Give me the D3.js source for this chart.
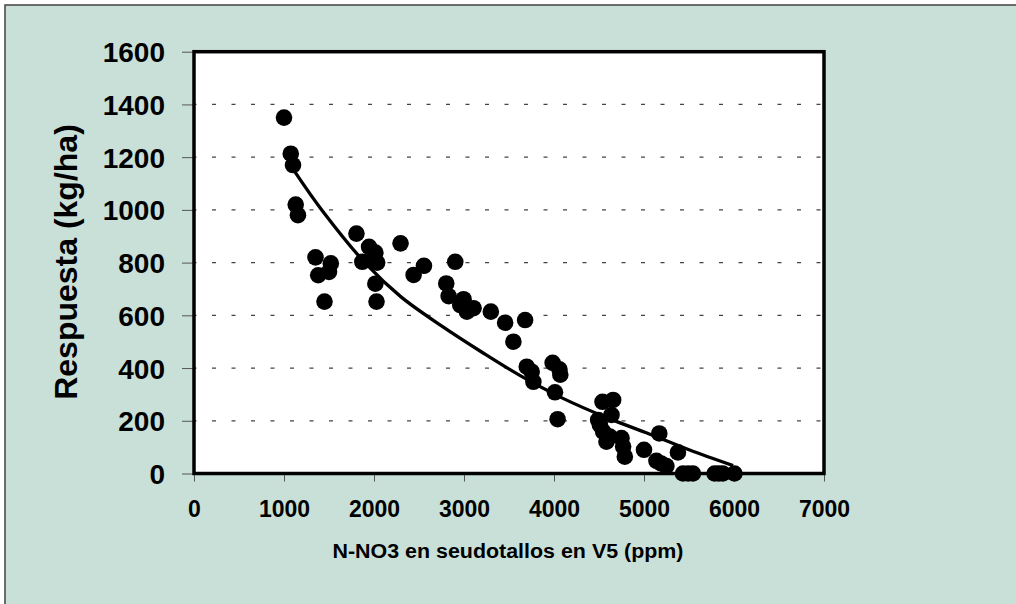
<!DOCTYPE html>
<html>
<head>
<meta charset="utf-8">
<script src="https://cdn.jsdelivr.net/npm/d3@7"></script>
<style>
  body { margin: 0; background: #fff; }
  svg text { font-family: "Liberation Sans", Arial, sans-serif; font-weight: bold; fill: #000; }
</style>
</head>
<body>
<div id="chart"></div>
<script>
// N-NO3 in pseudostems (ppm) vs yield response (kg/ha)
var nitrate = [1000, 1075, 1100, 1130, 1155, 1350, 1380, 1500, 1520, 1450,
    1805, 1870, 1945, 1960, 2015, 2035, 2015, 2028, 2295, 2440, 2555,
    2903, 2803, 2829, 2958, 2995, 3032, 3106, 3298, 3457, 3679, 3549,
    3697, 3752, 3771, 3985, 4060, 4070, 4011, 4040,
    4491, 4539, 4657, 4639, 4510, 4546, 4620, 4583, 4750, 4768, 4787,
    5000, 5170, 5138, 5190, 5249, 5377,
    5433, 5490, 5544, 5784, 5830, 5876, 6005];
var respuesta = [1350, 1213, 1170, 1020, 980, 820, 752, 765, 797, 652,
    910, 803, 860, 810, 838, 800, 720, 652, 873, 753, 788,
    803, 721, 673, 639, 661, 614, 627, 614, 572, 582, 500,
    405, 386, 348, 420, 395, 375, 308, 206,
    203, 272, 279, 222, 184, 159, 140, 121, 134, 102, 64,
    90, 152, 48, 38, 28, 80,
    0, 0, 0, 0, 0, 0, 0];

// trend curve
var trendX = [1110, 1430, 1925, 2300, 2750, 3200, 3620, 4100, 4600, 5060, 5500, 5990];
var trendY = [1150, 995, 790, 670, 560, 460, 372, 285, 210, 150, 90, 30];

var xTicks = [0, 1000, 2000, 3000, 4000, 5000, 6000, 7000];
var yTicks = [0, 200, 400, 600, 800, 1000, 1200, 1400, 1600];

var svgWidth = 1016;
var svgHeight = 604;

var svg = d3.select("#chart")
    .append("svg")
    .attr("width", svgWidth)
    .attr("height", svgHeight);

// outer chart area
svg.append("rect")
    .attr("x", 5)
    .attr("y", 5)
    .attr("width", 1030)
    .attr("height", 620)
    .attr("fill", "#c9e0d8")
    .attr("stroke", "#404040")
    .attr("stroke-width", 1.5);

var xScale = d3.scaleLinear().domain([0, 7000]).range([194, 824]);
var yScale = d3.scaleLinear().domain([0, 1600]).range([473.5, 51.7]);

// plot area
svg.append("rect")
    .attr("x", xScale(0))
    .attr("y", yScale(1600))
    .attr("width", xScale(7000) - xScale(0))
    .attr("height", yScale(0) - yScale(1600))
    .attr("fill", "#fff");

// dashed gridlines
svg.append("g")
    .selectAll("line")
    .data(yTicks.filter(d => d > 0 && d < 1600))
    .enter()
    .append("line")
    .attr("x1", xScale(0))
    .attr("x2", xScale(7000))
    .attr("y1", d => yScale(d))
    .attr("y2", d => yScale(d))
    .attr("stroke", "#444")
    .attr("stroke-width", 1.3)
    .attr("stroke-dasharray", "4,15.5")
    .attr("stroke-dashoffset", 1.5);

// axes
var bottomAxis = d3.axisBottom(xScale).tickValues(xTicks).tickSize(8).tickPadding(19).tickFormat(d3.format("d"));
var leftAxis = d3.axisLeft(yScale).tickValues(yTicks).tickSize(12).tickPadding(17).tickFormat(d3.format("d"));

var xAxisG = svg.append("g")
    .attr("transform", `translate(0, ${yScale(0)})`)
    .call(bottomAxis);
xAxisG.select(".domain").remove();
xAxisG.selectAll(".tick line").attr("stroke", "#555");
xAxisG.selectAll("text").style("font-size", "23px").attr("dy", "0.71em");

var yAxisG = svg.append("g")
    .attr("transform", `translate(${xScale(0)}, 0)`)
    .call(leftAxis);
yAxisG.select(".domain").remove();
yAxisG.selectAll(".tick line").attr("stroke", "#555");
yAxisG.selectAll("text").style("font-size", "28px").attr("dy", "0.36em");

// plot border
svg.append("rect")
    .attr("x", xScale(0))
    .attr("y", yScale(1600))
    .attr("width", xScale(7000) - xScale(0))
    .attr("height", yScale(0) - yScale(1600))
    .attr("fill", "none")
    .attr("stroke", "#000")
    .attr("stroke-width", 3.5);

// trend line
var trend = trendX.map((x, i) => [x, trendY[i]]);
svg.append("path")
    .datum(trend)
    .attr("fill", "none")
    .attr("stroke", "#000")
    .attr("stroke-width", 3.3)
    .attr("d", d3.line()
        .x(d => xScale(d[0]))
        .y(d => yScale(d[1]))
        .curve(d3.curveCatmullRom));

// points
svg.append("g")
    .selectAll("circle")
    .data(nitrate)
    .enter()
    .append("circle")
    .attr("cx", d => xScale(d))
    .attr("cy", (d, i) => yScale(respuesta[i]))
    .attr("r", 8.3)
    .attr("fill", "#000");

// axis titles
svg.append("text")
    .attr("x", 508)
    .attr("y", 558)
    .attr("text-anchor", "middle")
    .attr("textLength", 351)
    .attr("lengthAdjust", "spacingAndGlyphs")
    .style("font-size", "19.5px")
    .text("N-NO3 en seudotallos en V5 (ppm)");

svg.append("text")
    .attr("transform", "translate(77, 262) rotate(-90)")
    .attr("text-anchor", "middle")
    .style("font-size", "32px")
    .text("Respuesta (kg/ha)");
</script>
</body>
</html>
